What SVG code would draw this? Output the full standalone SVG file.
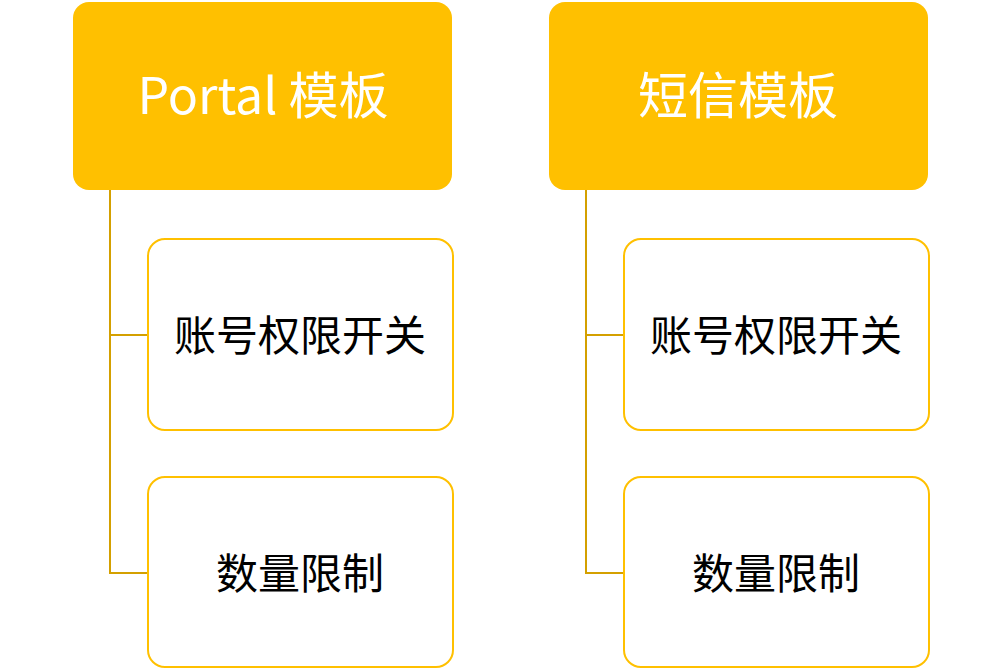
<svg xmlns="http://www.w3.org/2000/svg" width="1000" height="669" viewBox="0 0 1000 669">
<style>
.head{fill:#FFC000;}
.child{fill:#FFFFFF;stroke:#FFC000;stroke-width:2;}
.conn{fill:none;stroke:#D4A000;stroke-width:2;}
.ht{font-family:"Noto Sans CJK SC","Noto Sans",sans-serif;font-size:50px;fill:#FFFFFF;text-anchor:middle;}
.ct{font-family:"Noto Sans CJK SC","Noto Sans",sans-serif;font-size:42px;fill:#000000;text-anchor:middle;}
</style>
<rect width="1000" height="669" fill="#FFFFFF"/>
<g id="connectors">
<path class="conn" d="M110 190 V573 H148 M110 335 H148"/>
<path class="conn" d="M586 190 V573 H624 M586 335 H624"/>
</g>
<g id="portal">
<rect class="head" x="73" y="2" width="379" height="188" rx="16"/>
<text class="ht" x="263" y="114">Portal 模板</text>
</g>
<g id="sms">
<rect class="head" x="549" y="2" width="379" height="188" rx="16"/>
<text class="ht" x="738" y="114">短信模板</text>
</g>
<g id="portal-account">
<rect class="child" x="148" y="239" width="305" height="191" rx="17"/>
<text class="ct" x="300" y="351">账号权限开关</text>
</g>
<g id="portal-quota">
<rect class="child" x="148" y="477" width="305" height="190" rx="17"/>
<text class="ct" x="300" y="589">数量限制</text>
</g>
<g id="sms-account">
<rect class="child" x="624" y="239" width="305" height="191" rx="17"/>
<text class="ct" x="776" y="351">账号权限开关</text>
</g>
<g id="sms-quota">
<rect class="child" x="624" y="477" width="305" height="190" rx="17"/>
<text class="ct" x="776" y="589">数量限制</text>
</g>
</svg>
